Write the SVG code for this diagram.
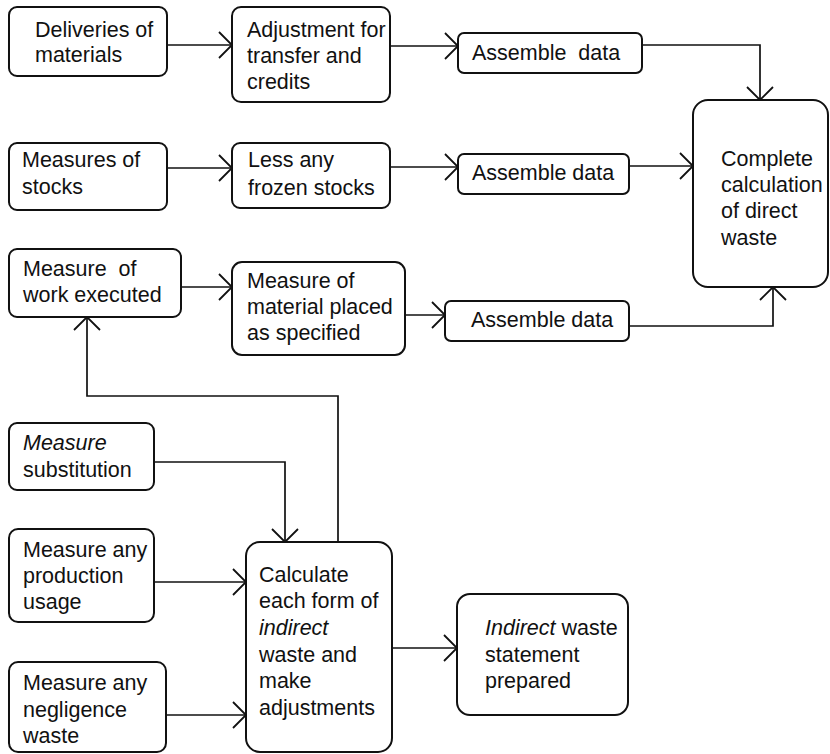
<svg xmlns="http://www.w3.org/2000/svg" width="830" height="754" viewBox="0 0 830 754">
<style>
  .box { fill: #fff; stroke: #111; stroke-width: 2; }
  .lbl { font-family: "Liberation Sans", Arial, sans-serif; font-size: 21.5px; fill: #111; }
  .it { font-style: italic; }
  .conn { fill: none; stroke: #111; stroke-width: 1.7; marker-end: url(#arr); }
  .line { fill: none; stroke: #111; stroke-width: 1.7; }
</style>
<defs>
  <marker id="arr" markerUnits="userSpaceOnUse" viewBox="-16 -16 18 32" markerWidth="18" markerHeight="32" refX="0" refY="0" orient="auto" overflow="visible">
    <path d="M -13 -13 L 0 0 L -13 13" fill="none" stroke="#111" stroke-width="1.8"/>
  </marker>
</defs>
<rect width="830" height="754" fill="#fff"/>

<g id="connectors">
  <path class="conn" d="M 167 45 L 232 45"/>
  <path class="conn" d="M 390 46 L 458 46"/>
  <path class="conn" d="M 642 45 L 760 45 L 760 100"/>
  <path class="conn" d="M 167 168 L 232 168"/>
  <path class="conn" d="M 390 167 L 458 167"/>
  <path class="conn" d="M 629 166 L 693 166"/>
  <path class="conn" d="M 181 287 L 232 287"/>
  <path class="conn" d="M 405 315 L 445 315"/>
  <path class="conn" d="M 629 326 L 773 326 L 773 287"/>
  <path class="conn" d="M 338 542 L 338 396 L 87 396 L 87 317"/>
  <path class="conn" d="M 154 462 L 285 462 L 285 542"/>
  <path class="conn" d="M 154 582 L 246 582"/>
  <path class="conn" d="M 166 715 L 246 715"/>
  <path class="conn" d="M 392 648 L 457 648"/>
</g>

<g id="deliveries">
  <rect class="box" x="9" y="7" width="158" height="69" rx="8"/>
  <text class="lbl" x="35" y="37">Deliveries of</text>
  <text class="lbl" x="35" y="62">materials</text>
</g>
<g id="adjustment">
  <rect class="box" x="232" y="7" width="158" height="95" rx="9"/>
  <text class="lbl" x="247" y="37">Adjustment for</text>
  <text class="lbl" x="247" y="63">transfer and</text>
  <text class="lbl" x="247" y="89">credits</text>
</g>
<g id="assemble1">
  <rect class="box" x="458" y="33" width="184" height="40" rx="6"/>
  <text class="lbl" x="472" y="60" xml:space="preserve">Assemble  data</text>
</g>

<g id="stocks">
  <rect class="box" x="9" y="143" width="158" height="67" rx="8"/>
  <text class="lbl" x="22" y="167">Measures of</text>
  <text class="lbl" x="22" y="194">stocks</text>
</g>
<g id="frozen">
  <rect class="box" x="232" y="143" width="158" height="65" rx="8"/>
  <text class="lbl" x="248" y="167">Less any</text>
  <text class="lbl" x="248" y="195">frozen stocks</text>
</g>
<g id="assemble2">
  <rect class="box" x="458" y="154" width="171" height="40" rx="6"/>
  <text class="lbl" x="472" y="180">Assemble data</text>
</g>

<g id="complete">
  <rect class="box" x="693" y="100" width="135" height="187" rx="15"/>
  <text class="lbl" x="721" y="166">Complete</text>
  <text class="lbl" x="721" y="192">calculation</text>
  <text class="lbl" x="721" y="218">of direct</text>
  <text class="lbl" x="721" y="245">waste</text>
</g>

<g id="work">
  <rect class="box" x="9" y="249" width="172" height="68" rx="8"/>
  <text class="lbl" x="23" y="276" xml:space="preserve">Measure  of</text>
  <text class="lbl" x="23" y="302">work executed</text>
</g>
<g id="material">
  <rect class="box" x="232" y="262" width="173" height="93" rx="10"/>
  <text class="lbl" x="247" y="288">Measure of</text>
  <text class="lbl" x="247" y="314">material placed</text>
  <text class="lbl" x="247" y="340">as specified</text>
</g>
<g id="assemble3">
  <rect class="box" x="445" y="301" width="184" height="40" rx="6"/>
  <text class="lbl" x="471" y="327">Assemble data</text>
</g>

<g id="substitution">
  <rect class="box" x="9" y="423" width="145" height="67" rx="8"/>
  <text class="lbl it" x="23" y="450">Measure</text>
  <text class="lbl" x="23" y="477">substitution</text>
</g>
<g id="production">
  <rect class="box" x="9" y="529" width="145" height="93" rx="9"/>
  <text class="lbl" x="23" y="557">Measure any</text>
  <text class="lbl" x="23" y="583">production</text>
  <text class="lbl" x="23" y="609">usage</text>
</g>
<g id="negligence">
  <rect class="box" x="9" y="662" width="157" height="90" rx="9"/>
  <text class="lbl" x="23" y="690">Measure any</text>
  <text class="lbl" x="23" y="717">negligence</text>
  <text class="lbl" x="23" y="743">waste</text>
</g>

<g id="calculate">
  <rect class="box" x="246" y="542" width="146" height="210" rx="14"/>
  <text class="lbl" x="259" y="582">Calculate</text>
  <text class="lbl" x="259" y="608">each form of</text>
  <text class="lbl it" x="259" y="635">indirect</text>
  <text class="lbl" x="259" y="662">waste and</text>
  <text class="lbl" x="259" y="688">make</text>
  <text class="lbl" x="259" y="715">adjustments</text>
</g>

<g id="indirect">
  <rect class="box" x="457" y="594" width="171" height="121" rx="13"/>
  <text class="lbl" x="485" y="635"><tspan class="it">Indirect</tspan> waste</text>
  <text class="lbl" x="485" y="662">statement</text>
  <text class="lbl" x="485" y="688">prepared</text>
</g>
</svg>
